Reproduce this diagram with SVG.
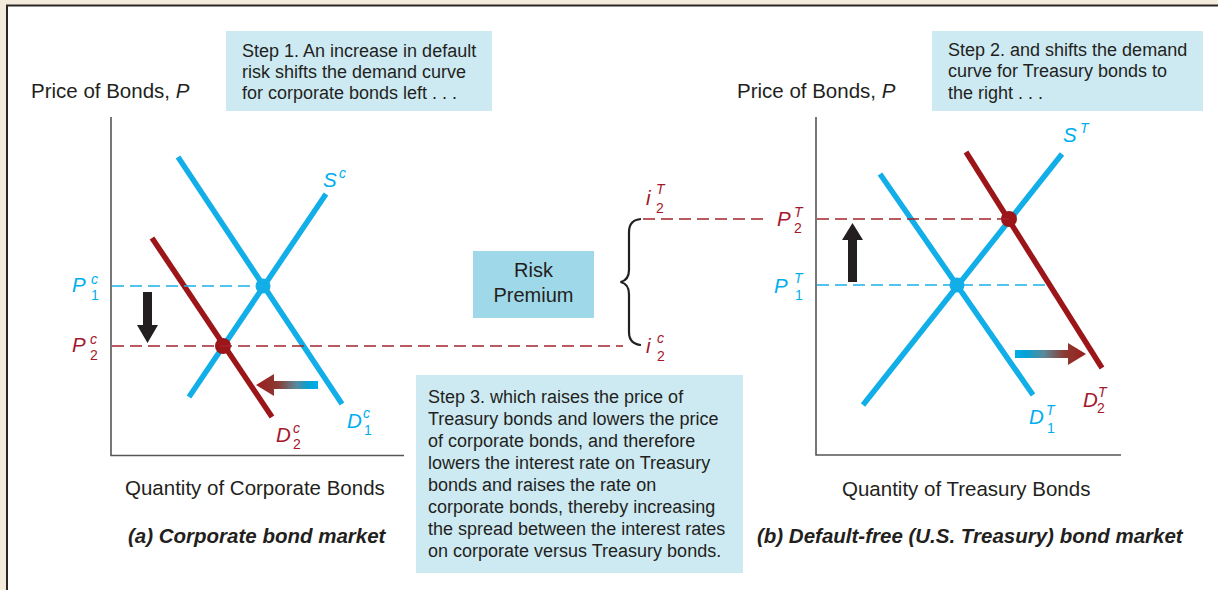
<svg xmlns="http://www.w3.org/2000/svg" width="1218" height="590" viewBox="0 0 1218 590">
<style>
text{font-family:"Liberation Sans",Arial,sans-serif;fill:#231f20}
.t18{font-size:18px}
.t20{font-size:20.5px}
.bi{font-size:20.5px;font-weight:bold;font-style:italic}
.lab{font-size:20.5px;font-style:italic}
.sm{font-size:14px;font-style:italic}
.smn{font-size:14px}
.cy{fill:#00aeef}
.rd{fill:#a3182b}
.axis{stroke:#555;stroke-width:1.6;fill:none}
.cyl{stroke:#11aee8;stroke-width:5.5;fill:none}
.rdl{stroke:#9b1519;stroke-width:5.5;fill:none}
.dcy{stroke:#1ab0e8;stroke-width:1.5;stroke-dasharray:12 6;fill:none}
.drd{stroke:#a3242c;stroke-width:1.5;stroke-dasharray:12 6;fill:none}
.step{fill:#cdeaf3}
</style>
<defs>
<linearGradient id="gl" x1="256" y1="0" x2="318" y2="0" gradientUnits="userSpaceOnUse">
<stop offset="0" stop-color="#9a1e1e"/><stop offset="0.35" stop-color="#8c3a32"/><stop offset="0.65" stop-color="#5a8a9c"/><stop offset="0.85" stop-color="#00a3d6"/><stop offset="1" stop-color="#00aee8"/>
</linearGradient>
<linearGradient id="gr" x1="1015" y1="0" x2="1086" y2="0" gradientUnits="userSpaceOnUse">
<stop offset="0" stop-color="#00aee8"/><stop offset="0.15" stop-color="#00a3d6"/><stop offset="0.4" stop-color="#5a8a9c"/><stop offset="0.7" stop-color="#8c3a32"/><stop offset="1" stop-color="#9a1e1e"/>
</linearGradient>
</defs>
<rect x="0" y="0" width="1218" height="590" fill="#f3ebdc"/>
<rect x="7" y="5.5" width="1230" height="600" fill="#fff" stroke="#2a2626" stroke-width="2"/>

<g id="panel-a">
<path class="axis" d="M111 117 V455.5 H404"/>
<text class="t20" x="31" y="98">Price of Bonds, <tspan font-style="italic">P</tspan></text>
<text class="t20" x="125" y="495">Quantity of Corporate Bonds</text>
<text class="bi" x="128" y="543">(a) Corporate bond market</text>
<line class="cyl" x1="178" y1="157" x2="342" y2="404"/>
<line class="cyl" x1="189" y1="397" x2="326" y2="194"/>
<line class="rdl" x1="152" y1="238" x2="272" y2="417"/>
<circle cx="263" cy="286" r="7.5" fill="#11aee8"/>
<circle cx="223" cy="346" r="8" fill="#9b1519"/>
<text class="lab cy" x="323" y="187">S</text><text class="sm cy" x="339" y="178">c</text>
<text class="lab cy" x="72" y="292">P</text><text class="sm cy" x="91" y="284">c</text><text class="smn cy" x="91" y="300">1</text>
<text class="lab rd" x="72" y="352">P</text><text class="sm rd" x="90" y="344">c</text><text class="smn rd" x="90" y="360">2</text>
<text class="lab cy" x="347" y="428">D</text><text class="sm cy" x="363" y="418">c</text><text class="smn cy" x="364" y="435">1</text>
<text class="lab rd" x="276" y="442">D</text><text class="sm rd" x="293" y="433">c</text><text class="smn rd" x="293" y="449">2</text>
</g>

<g id="panel-b">
<path class="axis" d="M816 117 V455 H1121"/>
<text class="t20" x="737" y="98">Price of Bonds, <tspan font-style="italic">P</tspan></text>
<text class="t20" x="842" y="496">Quantity of Treasury Bonds</text>
<text class="bi" x="757" y="543">(b) Default-free (U.S. Treasury) bond market</text>
<line class="cyl" x1="880" y1="174" x2="1033" y2="395"/>
<line class="cyl" x1="863" y1="405" x2="1062" y2="154"/>
<line class="rdl" x1="966" y1="152" x2="1102" y2="368"/>
<circle cx="957" cy="285" r="7.5" fill="#11aee8"/>
<circle cx="1009" cy="219" r="8" fill="#9b1519"/>
<text class="lab cy" x="1063" y="142">S</text><text class="sm cy" x="1080" y="133">T</text>
<text class="lab rd" x="777" y="226">P</text><text class="sm rd" x="794" y="217">T</text><text class="smn rd" x="794" y="233">2</text>
<text class="lab cy" x="774" y="293">P</text><text class="sm cy" x="794" y="283">T</text><text class="smn cy" x="795" y="300">1</text>
<text class="lab cy" x="1029" y="424">D</text><text class="sm cy" x="1046" y="415">T</text><text class="smn cy" x="1047" y="433">1</text>
<text class="lab rd" x="1083" y="407">D</text><text class="sm rd" x="1098" y="397">T</text><text class="smn rd" x="1097" y="413">2</text>
</g>

<g id="step1">
<rect class="step" x="226" y="31" width="266" height="80"/>
<text class="t18" x="242" y="57">Step 1. An increase in default</text>
<text class="t18" x="242" y="78">risk shifts the demand curve</text>
<text class="t18" x="242" y="99">for corporate bonds left . . .</text>
</g>

<g id="step2">
<rect class="step" x="932" y="31" width="271" height="80"/>
<text class="t18" x="948" y="56">Step 2. and shifts the demand</text>
<text class="t18" x="948" y="77">curve for Treasury bonds to</text>
<text class="t18" x="948" y="99">the right . . .</text>
</g>

<g id="step3">
<rect class="step" x="416" y="375" width="327" height="198"/>
<text class="t18" x="428" y="403">Step 3. which raises the price of</text>
<text class="t18" x="428" y="425">Treasury bonds and lowers the price</text>
<text class="t18" x="428" y="447">of corporate bonds, and therefore</text>
<text class="t18" x="428" y="469">lowers the interest rate on Treasury</text>
<text class="t18" x="428" y="491">bonds and raises the rate on</text>
<text class="t18" x="428" y="513">corporate bonds, thereby increasing</text>
<text class="t18" x="428" y="535">the spread between the interest rates</text>
<text class="t18" x="428" y="557">on corporate versus Treasury bonds.</text>
</g>

<g id="risk-premium">
<rect x="473" y="251" width="121" height="67" fill="#9fd8e9"/>
<text x="533.5" y="277" text-anchor="middle" style="font-size:20px">Risk</text>
<text x="533.5" y="302" text-anchor="middle" style="font-size:20px">Premium</text>
</g>

<g id="rate-labels">
<text class="lab rd" x="646" y="205">i</text><text class="sm rd" x="656" y="194">T</text><text class="smn rd" x="656" y="213">2</text>
<text class="lab rd" x="646" y="353">i</text><text class="sm rd" x="657" y="343">c</text><text class="smn rd" x="657" y="361">2</text>
</g>

<g id="connectors">
<line class="dcy" x1="112" y1="286" x2="263" y2="286"/>
<line class="drd" x1="112" y1="346" x2="623" y2="346"/>
<line class="drd" x1="643" y1="219" x2="765" y2="219"/>
<line class="drd" x1="817" y1="219" x2="1009" y2="219"/>
<line class="dcy" x1="817" y1="285" x2="1045" y2="285"/>
<path d="M641 219 Q629 220 629 232 V270 Q629 280 620.5 282 Q629 284 629 294 V332 Q629 344 641 345" fill="none" stroke="#231f20" stroke-width="2.2"/>
<polygon points="143,292 152,292 152,325 158,325 147.5,343 137,325 143,325" fill="#231f20"/>
<polygon points="848,282 857,282 857,240 863,240 852.5,223 842,240 848,240" fill="#231f20"/>
<polygon points="318,381 274,381 274,374 256,385 274,396 274,389 318,389" fill="url(#gl)"/>
<polygon points="1015,350 1068,350 1068,343 1086,354 1068,365 1068,358 1015,358" fill="url(#gr)"/>
</g>
</svg>
